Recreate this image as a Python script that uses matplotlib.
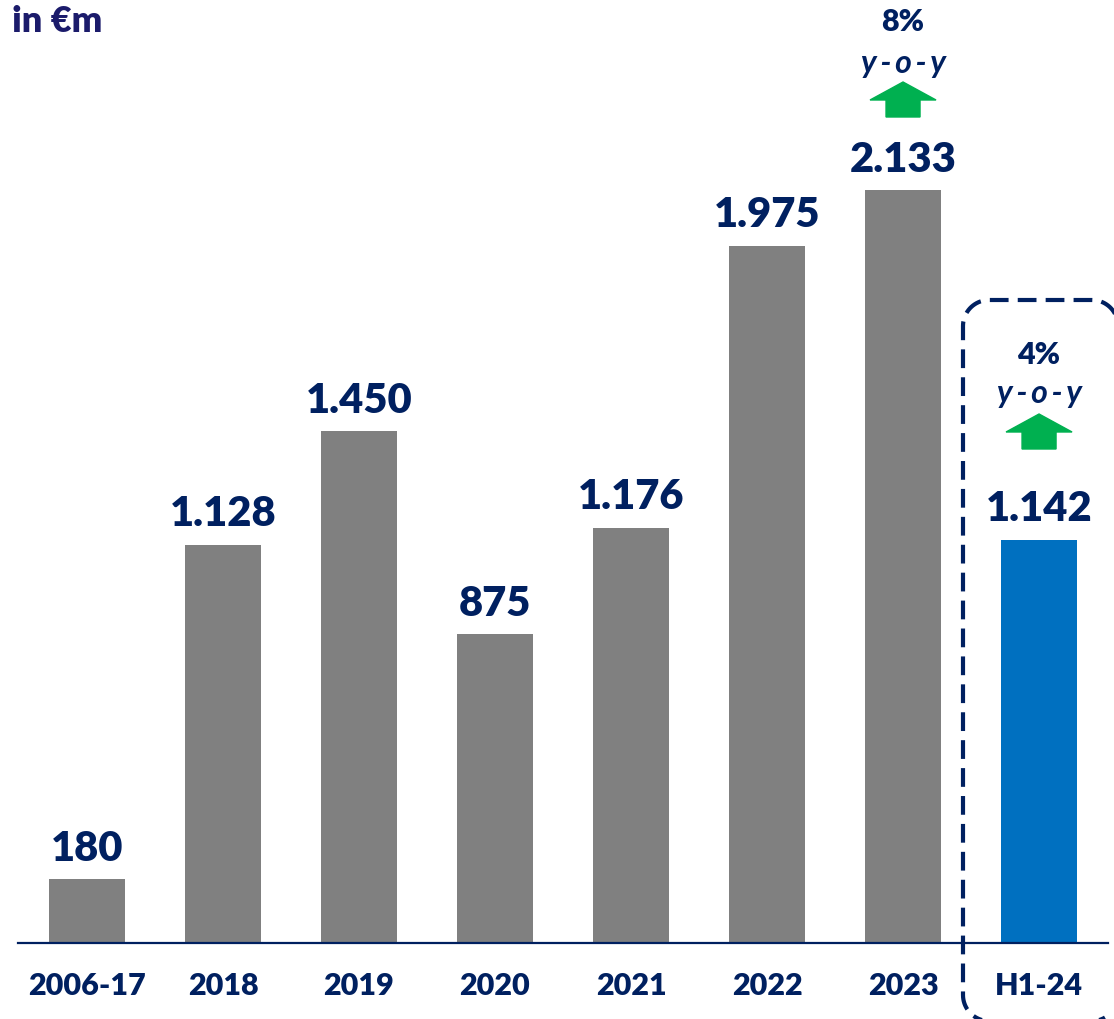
import numpy as np
import matplotlib
matplotlib.use("Agg")
import matplotlib.pyplot as plt
from matplotlib.patches import Polygon

categories = ["2006-17", "2018", "2019", "2020", "2021", "2022", "2023", "H1-24"]
values = [180, 1128, 1450, 875, 1176, 1975, 2133, 1142]
value_labels = ["180", "1.128", "1.450", "875", "1.176", "1.975", "2.133", "1.142"]
bar_colors = ["#808080"] * 7 + ["#0070C0"]
growth_idx = [6, 7]
growth_text = ["8%", "4%"]

NAVY = "#002060"
GREEN = "#00B050"
FONT = ["Lato", "DejaVu Sans"]

W, H = 1114, 1020
fig = plt.figure(figsize=(W / 100, H / 100), dpi=100)
base_px = 944
scale = 753 / 2133  # px per unit
ax = fig.add_axes([18 / W, (H - base_px) / H, (1108 - 18) / W, base_px / H])
x = list(range(len(categories)))
ax.bar(x, values, width=0.56, color=bar_colors, zorder=2)
ax.set_xlim(-0.507, 7.507)
ax.set_ylim(0, base_px / scale)
for s in ["top", "right", "left"]:
    ax.spines[s].set_visible(False)
ax.spines["bottom"].set_color(NAVY)
ax.spines["bottom"].set_linewidth(1.6)
ax.set_yticks([])
ax.set_xticks(x)
ax.set_xticklabels(categories, fontsize=22, fontweight="heavy", color=NAVY, family=FONT)
ax.tick_params(axis="x", length=0, pad=20)

for xi, v, lab in zip(x, values, value_labels):
    ax.annotate(lab, (xi, v), xytext=(0, 14), textcoords="offset points",
                ha="center", va="baseline", fontsize=30, fontweight="heavy",
                color=NAVY, family=FONT)

# overlay axes in pixel units (origin top-left) for annotations
ov = fig.add_axes([0, 0, 1, 1])
ov.set_xlim(0, W)
ov.set_ylim(H, 0)
ov.axis("off")
ov.patch.set_alpha(0)

def bar_px(i):
    return ax.transData.transform((i, 0))[0]

ann = {6: dict(pct=22, yoy=63, top=83, hb=101, bot=118),
       7: dict(pct=355, yoy=394, top=415, hb=433, bot=450)}
thin = "\u2009"
for gi, txt in zip(growth_idx, growth_text):
    a = ann[gi]
    cx = bar_px(gi)
    ov.text(cx, a["pct"], txt, ha="center", va="center", fontsize=22,
            fontweight="heavy", color=NAVY, family=FONT)
    ov.text(cx, a["yoy"], thin.join("y-o-y"), ha="center", va="center", fontsize=23,
            fontweight="bold", style="italic", color=NAVY, family=FONT)
    hw, sw = 33, 17
    poly = Polygon([(cx - sw, a["bot"]), (cx - sw, a["hb"]), (cx - hw, a["hb"]),
                    (cx, a["top"]), (cx + hw, a["hb"]), (cx + sw, a["hb"]),
                    (cx + sw, a["bot"])], closed=True, color=GREEN, zorder=3)
    ov.add_patch(poly)

# dashed rounded highlight box around H1-24 (visible part only, polyline)
L, T, R, B, r = 963, 301, 1118, 1022, 26
def arc(cx, cy, a0, a1, n=20):
    t = np.radians(np.linspace(a0, a1, n))
    return np.column_stack([cx + r * np.cos(t), cy - r * np.sin(t)])
pts = np.vstack([
    arc(R - r, T + r, 0, 90),          # top-right corner
    arc(L + r, T + r, 90, 180),        # top-left corner
    arc(L + r, B - r, 180, 270),       # bottom-left corner
    arc(R - r, B - r, 270, 300),       # part of bottom-right corner
])
ov.plot(pts[:, 0], pts[:, 1], color=NAVY, lw=3.0, dashes=(4.5, 2.2),
        solid_capstyle="butt", dash_capstyle="butt", clip_on=False, zorder=4)

ov.text(12, 22, "in €m", ha="left", va="center", fontsize=26,
        fontweight="heavy", color="#1B1B6B", family=FONT)

fig.savefig("out.png", dpi=100)
